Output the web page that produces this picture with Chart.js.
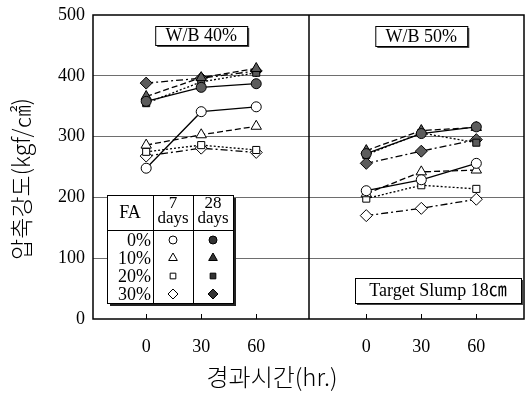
<!DOCTYPE html>
<html><head><meta charset="utf-8">
<script src="https://cdn.jsdelivr.net/npm/chart.js@4/dist/chart.umd.min.js"></script>
<style>html,body{margin:0;padding:0;background:#fff}</style>
</head><body>
<canvas id="c" width="525" height="394"></canvas>
<script>
// Elapsed time (hr.) and fly-ash replacement levels
const hours = [0, 30, 60];
const faLevels = ['0%', '10%', '20%', '30%'];
const panelNames = ['W/B 40%', 'W/B 50%'];
const yTickValues = [0, 100, 200, 300, 400, 500];

// Compressive strength (kgf/cm²); one row per FA level, one column per hour
const wb40Day7  = [[248, 341, 349], [286, 303, 317], [275, 286, 278], [268, 281, 274]];
const wb40Day28 = [[358, 381, 387], [366, 397, 412], [355, 390, 405], [388, 396, 408]];
const wb50Day7  = [[211, 229, 256], [206, 242, 245], [198, 220, 214], [170, 182, 197]];
const wb50Day28 = [[272, 305, 316], [277, 310, 315], [270, 306, 290], [256, 276, 295]];

const SERIF = "'Liberation Serif', 'Noto Sans CJK KR', serif";
const KOR = "'Noto Sans CJK KR', 'Liberation Serif', serif";

// both panels share one linear x axis; the second panel is shifted right
const panelShift = [0, 120];
const dividerX = 89;
const markerStyles = ['circle', 'triangle', 'rect', 'rectRot'];
const dashes = [[], [6, 3], [2, 2], [7, 3, 2, 3]];
const radii = [5, 6, 5, 6];

const datasets = [];
[[wb40Day7, wb40Day28], [wb50Day7, wb50Day28]].forEach((pair, p) => {
  pair.forEach((rows, age) => {
    rows.forEach((vals, i) => {
      datasets.push({
        label: panelNames[p] + ' FA ' + faLevels[i] + (age ? ' 28 days' : ' 7 days'),
        data: hours.map((h, k) => ({ x: h + panelShift[p], y: vals[k] })),
        borderColor: '#000',
        borderWidth: 1.3,
        borderDash: dashes[i],
        pointStyle: markerStyles[i],
        pointRadius: radii[i],
        pointBackgroundColor: age ? '#5c5c5c' : '#fff',
        pointBorderColor: '#000',
        pointBorderWidth: 1,
        fill: false,
        tension: 0
      });
    });
  });
});

function textBox(ctx, text, x1, y1, x2, y2) {
  ctx.save();
  ctx.fillStyle = '#444';
  ctx.fillRect(x1 + 2, y1 + 2, x2 - x1, y2 - y1);
  ctx.fillStyle = '#fff';
  ctx.fillRect(x1, y1, x2 - x1, y2 - y1);
  ctx.strokeStyle = '#000';
  ctx.lineWidth = 1;
  ctx.strokeRect(x1 + 0.5, y1 + 0.5, x2 - x1, y2 - y1);
  ctx.fillStyle = '#000';
  ctx.font = '18px ' + SERIF;
  ctx.textAlign = 'center';
  ctx.textBaseline = 'middle';
  ctx.fillText(text, (x1 + x2) / 2, (y1 + y2) / 2 + 1);
  ctx.restore();
}

const decor = {
  id: 'decor',
  afterDatasetsDraw(chart) {
    const ctx = chart.ctx;
    const a = chart.chartArea;
    const xs = chart.scales.x;
    ctx.save();
    // panel divider
    ctx.strokeStyle = '#000';
    ctx.lineWidth = 1.5;
    const dx = Math.round(xs.getPixelForValue(dividerX));
    ctx.beginPath(); ctx.moveTo(dx, a.top); ctx.lineTo(dx, a.bottom); ctx.stroke();
    // frame
    ctx.strokeRect(a.left, a.top, a.right - a.left, a.bottom - a.top);
    // small inward tick marks on the time axis
    ctx.lineWidth = 1;
    panelShift.forEach(s => hours.forEach(h => {
      const px = Math.round(xs.getPixelForValue(h + s)) + 0.5;
      ctx.beginPath(); ctx.moveTo(px, a.bottom); ctx.lineTo(px, a.bottom - 5); ctx.stroke();
    }));

    // panel labels
    const p0 = xs.getPixelForValue(30 + panelShift[0]);
    const p1 = xs.getPixelForValue(30 + panelShift[1]);
    textBox(ctx, panelNames[0], p0 - 46, 26, p0 + 46, 45);
    textBox(ctx, panelNames[1], p1 - 46, 26, p1 + 46, 46);
    textBox(ctx, 'Target Slump 18㎝', 355, 278, 521, 303);

    // legend table
    const L = 107, T = 195, R = 233, B = 303;
    ctx.fillStyle = '#222';
    ctx.fillRect(L + 3, T + 3, R - L, B - T);
    ctx.fillStyle = '#fff';
    ctx.fillRect(L, T, R - L, B - T);
    ctx.strokeStyle = '#000';
    ctx.lineWidth = 1;
    ctx.strokeRect(L + 0.5, T + 0.5, R - L, B - T);
    ctx.beginPath();
    ctx.moveTo(153.5, T); ctx.lineTo(153.5, B);
    ctx.moveTo(193.5, T); ctx.lineTo(193.5, B);
    ctx.moveTo(L, 230.5); ctx.lineTo(R, 230.5);
    ctx.stroke();
    ctx.fillStyle = '#000';
    ctx.font = '18px ' + SERIF;
    ctx.textAlign = 'center';
    ctx.textBaseline = 'middle';
    ctx.fillText('FA', 130, 213);
    ctx.font = '17px ' + SERIF;
    ctx.fillText('7', 173, 204);
    ctx.fillText('days', 173, 219);
    ctx.fillText('28', 213, 204);
    ctx.fillText('days', 213, 219);
    ctx.font = '18px ' + SERIF;
    ctx.textAlign = 'right';
    const rowY = [240, 258, 276, 294];
    faLevels.forEach((f, i) => {
      ctx.fillStyle = '#000';
      ctx.fillText(f, 151, rowY[i] + 1);
      ctx.strokeStyle = '#000';
      ctx.fillStyle = '#fff';
      Chart.helpers.drawPoint(ctx, { pointStyle: markerStyles[i], radius: radii[i] - 1, borderWidth: 1 }, 173, rowY[i]);
      ctx.fillStyle = '#333';
      Chart.helpers.drawPoint(ctx, { pointStyle: markerStyles[i], radius: radii[i] - 1, borderWidth: 1 }, 213, rowY[i]);
    });

    // axis titles
    ctx.fillStyle = '#000';
    ctx.textAlign = 'center';
    ctx.textBaseline = 'middle';
    ctx.font = '300 24px ' + KOR;
    ctx.fillText('경과시간(hr.)', 272, 377);
    ctx.save();
    ctx.translate(21, 179);
    ctx.rotate(-Math.PI / 2);
    ctx.font = '300 23px ' + KOR;
    ctx.fillText('압축강도(kgf/㎠)', 0, 0);
    ctx.restore();
    ctx.restore();
  }
};

new Chart(document.getElementById('c'), {
  type: 'line',
  data: { datasets },
  options: {
    responsive: false,
    devicePixelRatio: 1,
    animation: false,
    layout: { autoPadding: false, padding: { top: 15, right: 1, left: 0, bottom: 0 } },
    plugins: { legend: { display: false }, tooltip: { enabled: false } },
    scales: {
      x: {
        type: 'linear',
        min: -29, max: 206,
        afterBuildTicks(s) {
          s.ticks = [];
          panelShift.forEach(sh => hours.forEach(h => s.ticks.push({ value: h + sh })));
        },
        afterFit(s) { s.height = 75; s.paddingLeft = 0; s.paddingRight = 0; },
        ticks: {
          padding: 17,
          color: '#000',
          font: { family: SERIF, size: 18 },
          callback: v => String(v >= dividerX ? v - panelShift[1] : v)
        },
        grid: { display: false, drawTicks: false },
        border: { display: false }
      },
      y: {
        min: 0, max: 500,
        afterBuildTicks(s) { s.ticks = yTickValues.map(v => ({ value: v })); },
        afterFit(s) { s.width = 93; s.paddingTop = 0; s.paddingBottom = 0; },
        ticks: {
          padding: 8,
          color: '#000',
          font: { family: SERIF, size: 18 }
        },
        grid: {
          drawTicks: false,
          color: c => (c.tick && (c.tick.value === 0 || c.tick.value === 500)) ? 'rgba(0,0,0,0)' : '#6e6e6e',
          lineWidth: 1
        },
        border: { display: false }
      }
    }
  },
  plugins: [decor]
});
</script>
</body></html>
